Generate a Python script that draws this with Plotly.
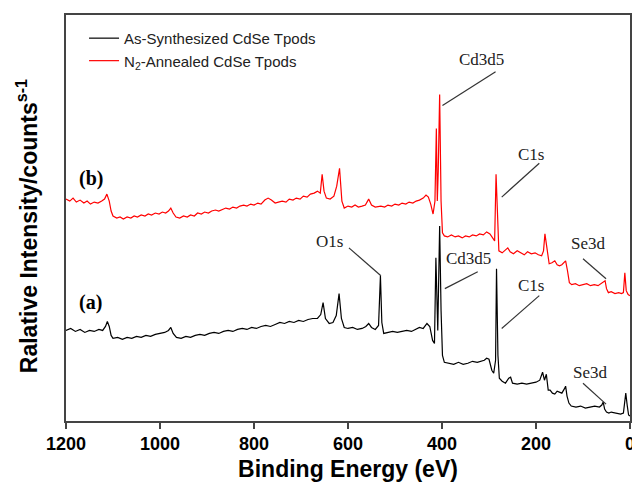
import plotly.graph_objects as go

# ---- Data (binding energy in eV, relative intensity in arbitrary units) ----
energy_a = [1200, 1190, 1180, 1170, 1160, 1150, 1140, 1130, 1122, 1116, 1112, 1108, 1104, 1100,
            1090, 1080, 1070, 1060, 1050, 1040, 1030, 1020, 1010, 1000, 990, 982, 977, 972, 965,
            955, 945, 935, 925, 915, 905, 895, 885, 875, 865, 855, 845, 835, 825, 815, 805, 795,
            785, 775, 765, 755, 745, 735, 725, 715, 705, 695, 685, 675, 665, 658, 653, 648, 640,
            632, 625, 619, 614, 608, 600, 590, 580, 570, 562, 556, 550, 542, 535, 531, 528, 524,
            515, 505, 495, 485, 475, 465, 455, 448, 440, 432, 426, 420, 416, 413, 409, 405, 402,
            399, 395, 385, 375, 365, 355, 345, 335, 325, 315, 310, 305, 300, 294, 290, 286, 284,
            281, 278, 272, 265, 258, 254, 250, 240, 230, 220, 210, 200, 192, 186, 182, 178, 174,
            170, 165, 160, 155, 150, 145, 140, 137, 134, 130, 125, 115, 105, 95, 85, 75, 65, 60,
            57, 54, 50, 45, 40, 30, 20, 14, 11, 9, 6, 3, 0]
intensity_a = [91, 93, 90, 92, 89, 91, 90, 92, 91, 95, 100, 95, 86, 83,
               84, 82, 84, 83, 85, 84, 86, 85, 87, 88, 89, 91, 94, 88, 84,
               83, 85, 84, 86, 87, 86, 88, 89, 88, 90, 91, 90, 92, 93, 92, 94, 93,
               95, 96, 95, 97, 99, 98, 100, 99, 101, 100, 102, 103, 103, 107, 119, 103, 98,
               99, 106, 128, 103, 94, 93, 94, 92, 93, 95, 98, 94, 92, 96, 146, 99, 88,
               89, 90, 89, 90, 91, 90, 92, 94, 93, 98, 95, 81, 78, 164, 91, 196, 111,
               66, 59, 58, 57, 59, 57, 58, 60, 59, 60, 61, 63, 62, 51, 48, 61, 153,
               66, 43, 40, 38, 43, 44, 38, 37, 38, 37, 38, 39, 41, 49, 41, 47, 31,
               31, 28, 27, 30, 29, 28, 32, 35, 25, 18, 15, 14, 15, 13, 14, 15, 14, 16,
               19, 12, 9, 8, 9, 8, 7, 8, 21, 28, 16, 6, 5]

energy_b = [1200, 1192, 1185, 1178, 1170, 1162, 1155, 1148, 1140, 1132, 1124, 1118, 1113, 1108,
            1104, 1100, 1092, 1085, 1078, 1070, 1062, 1055, 1048, 1040, 1032, 1025, 1018, 1010,
            1002, 995, 988, 982, 977, 972, 966, 958, 950, 942, 935, 927, 920, 912, 905, 897, 890,
            882, 875, 867, 860, 852, 845, 837, 830, 822, 815, 807, 800, 792, 785, 777, 770, 763,
            755, 748, 740, 732, 725, 717, 710, 702, 695, 687, 680, 672, 665, 659, 655, 651, 646,
            638, 630, 624, 618, 613, 608, 600, 592, 585, 578, 570, 563, 556, 550, 542, 535, 530,
            522, 515, 507, 500, 492, 485, 477, 470, 462, 455, 448, 440, 434, 429, 424, 419, 415,
            412, 410, 408, 405, 402, 399, 395, 388, 380, 372, 365, 357, 350, 342, 335, 327, 320,
            312, 305, 298, 292, 288, 285, 282, 279, 272, 265, 260, 255, 248, 240, 232, 225, 218,
            210, 202, 195, 188, 184, 181, 177, 172, 166, 160, 155, 150, 145, 140, 137, 133, 129,
            124, 116, 108, 100, 92, 84, 76, 68, 62, 57, 53, 50, 46, 40, 32, 24, 18, 14, 11, 8, 4, 0]
intensity_b = [223, 221, 224, 220, 222, 219, 221, 218, 220, 219, 221, 223, 228, 221,
               211, 206, 204, 205, 203, 205, 204, 206, 205, 207, 206, 208, 207, 209,
               208, 210, 209, 211, 214, 209, 205, 204, 206, 205, 207, 206, 209, 208, 210, 209, 211,
               212, 211, 213, 214, 213, 215, 214, 216, 217, 216, 218, 217, 219, 218, 222, 224, 222,
               219, 220, 221, 220, 223, 222, 224, 223, 226, 225, 228, 229, 231, 229, 248, 231, 224,
               223, 226, 236, 254, 221, 214, 216, 215, 217, 215, 216, 217, 223, 217, 215, 216, 216,
               215, 217, 216, 218, 217, 219, 218, 220, 219, 221, 222, 224, 227, 225, 218, 208, 221,
               294, 221, 251, 328, 221, 189, 186, 185, 187, 185, 186, 184, 186, 185, 187, 186, 188,
               187, 190, 188, 183, 181, 248, 196, 171, 169, 172, 174, 170, 168, 171, 169, 167, 170,
               168, 169, 167, 166, 171, 188, 173, 158, 159, 161, 157, 156, 157, 159, 161, 151, 139,
               137, 138, 136, 137, 138, 136, 137, 136, 138, 139, 141, 133, 129, 130, 128, 129, 128, 129, 149, 131, 127, 126]

series_names = ["As-Synthesized CdSe Tpods", "N<sub>2</sub>-Annealed CdSe Tpods"]
x_tick_vals = [1200, 1000, 800, 600, 400, 200, 0]

# peak labels: (text, label_E, label_I, line_from_E, line_from_I, line_to_E, line_to_I)
peak_labels = [
    ("Cd3d5", 316, 363, 399, 317, 286, 351),
    ("C1s", 210, 268, 273, 225, 193, 259),
    ("Se3d", 89, 178, 100, 163, 51, 143),
    ("O1s", 640, 180, 598, 174, 530, 146),
    ("Cd3d5", 343, 163, 324, 150, 394, 133),
    ("C1s", 210, 136, 193, 126, 273, 93),
    ("Se3d", 85, 49, 100, 38, 51, 17),
]

fig = go.Figure()
fig.add_trace(go.Scatter(x=energy_a, y=intensity_a, mode="lines", name=series_names[0],
                         line=dict(color="#000000", width=1.2)))
fig.add_trace(go.Scatter(x=energy_b, y=intensity_b, mode="lines", name=series_names[1],
                         line=dict(color="#ff0000", width=1.2)))

for txt, lx, ly, x0, y0, x1, y1 in peak_labels:
    fig.add_annotation(x=lx, y=ly, text=txt, showarrow=False, xref="x", yref="y",
                       xanchor="center", yanchor="middle",
                       font=dict(family="Liberation Serif", size=17, color="#222"))
    fig.add_shape(type="line", x0=x0, y0=y0, x1=x1, y1=y1, xref="x", yref="y",
                  line=dict(color="#333", width=1.2))

fig.add_annotation(x=0.044, y=0.598, xref="paper", yref="paper", text="<b>(b)</b>",
                   xanchor="center", yanchor="middle",
                   showarrow=False, font=dict(family="Liberation Serif", size=20, color="#000"))
fig.add_annotation(x=0.044, y=0.292, xref="paper", yref="paper", text="<b>(a)</b>",
                   xanchor="center", yanchor="middle",
                   showarrow=False, font=dict(family="Liberation Serif", size=20, color="#000"))

fig.add_annotation(x=-0.069, y=0.48, xref="paper", yref="paper", textangle=-90,
                   xanchor="center", yanchor="middle",
                   text="<b>Ralative Intensity/counts<sup>s-1</sup></b>", showarrow=False,
                   font=dict(family="Liberation Sans", size=23, color="#000"))

fig.update_layout(
    width=632, height=481,
    margin=dict(l=58, r=8, t=5, b=68),
    paper_bgcolor="white", plot_bgcolor="white",
    showlegend=True,
    legend=dict(x=0.032, y=0.983, xanchor="left", yanchor="top",
                bgcolor="rgba(0,0,0,0)", font=dict(family="Liberation Sans", size=15, color="#222"),
                tracegroupgap=0),
    xaxis=dict(range=[1200, 0], tickvals=x_tick_vals, ticks="outside", ticklen=6,
               tickcolor="#444", tickwidth=1.5, showgrid=False, zeroline=False,
               showline=True, linecolor="#444", linewidth=1.5, mirror=True,
               tickfont=dict(family="Liberation Sans", size=18, color="#000", weight="bold"),
               title=dict(text="<b>Binding Energy (eV)</b>", standoff=8,
                          font=dict(family="Liberation Sans", size=23, color="#000"))),
    yaxis=dict(range=[0, 408], showticklabels=False, ticks="", showgrid=False, zeroline=False,
               showline=True, linecolor="#444", linewidth=1.5, mirror=True),
)

fig.write_html("out.html")
